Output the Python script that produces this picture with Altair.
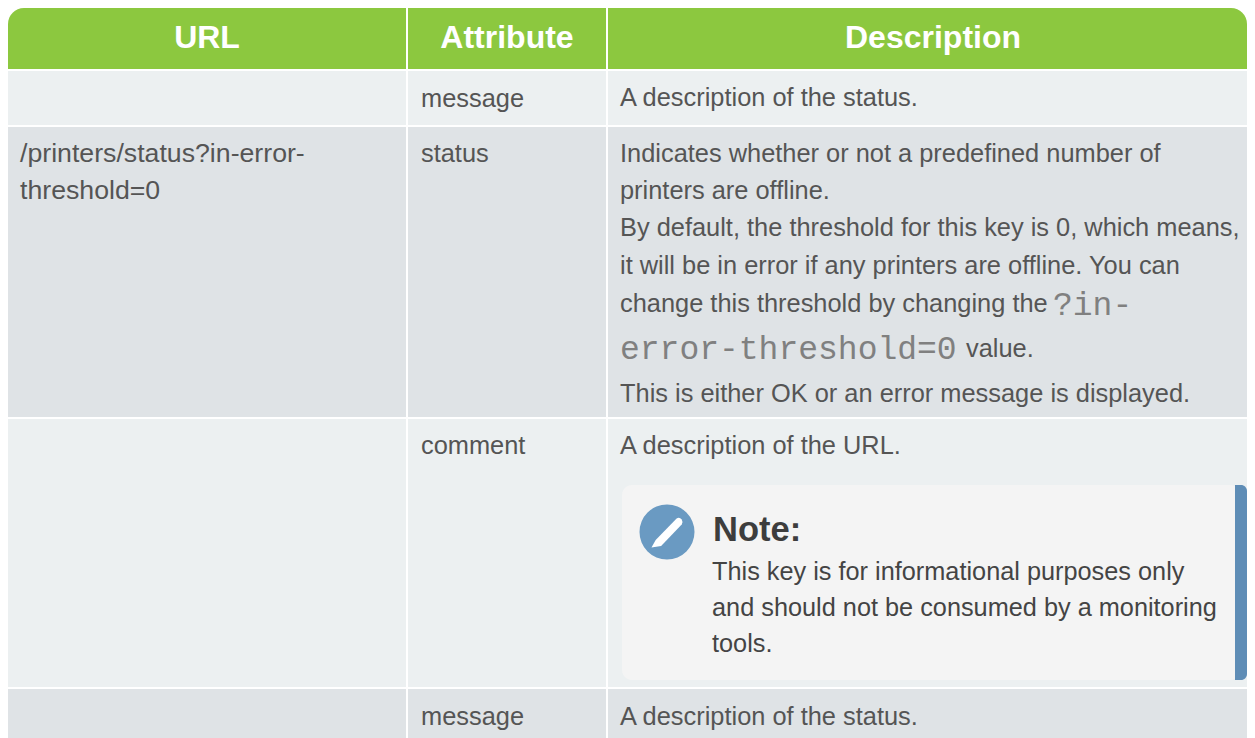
import altair as alt
import pandas as pd

# Table structure
col_edges = [(8, 406), (408, 606), (608, 1247)]
row_edges = [(8, 69), (71, 125), (127, 417), (419, 687), (689, 738)]
row_colors = ["#8cc83f", "#ecf0f1", "#dfe3e6", "#ecf0f1", "#dfe3e6"]

header_labels = ["URL", "Attribute", "Description"]
header_x = [207, 507, 933]
header_y = [38, 38, 38]

url_text = ["/printers/status?in-error-", "threshold=0"]
url_x = [20, 20]
url_y = [154, 191]

body_text = [
    "message", "A description of the status.",
    "status",
    "Indicates whether or not a predefined number of",
    "printers are offline.",
    "By default, the threshold for this key is 0, which means,",
    "it will be in error if any printers are offline. You can",
    "change this threshold by changing the",
    "value.",
    "This is either OK or an error message is displayed.",
    "comment", "A description of the URL.",
    "message", "A description of the status.",
]
body_x = [421, 620, 421, 620, 620, 620, 620, 620, 966, 620, 421, 620, 421, 620]
body_y = [99, 98, 154, 154, 191, 228, 266, 304, 349, 394, 446, 446, 717, 717]

mono_text = ["?in-", "error-threshold=0"]
mono_x = [1053, 620]
mono_y = [305, 349]

note_title = ["Note:"]
note_lines = ["This key is for informational purposes only",
              "and should not be consumed by a monitoring",
              "tools."]
note_line_x = [712, 712, 712]
note_line_y = [572, 608, 644]

X = alt.Scale(domain=[8, 1247], nice=False, zero=False)
Y = alt.Scale(domain=[738, 8], nice=False, zero=False)

def xq(f="x"): return alt.X(f"{f}:Q", scale=X, axis=None)
def yq(f="y"): return alt.Y(f"{f}:Q", scale=Y, axis=None)

cells = pd.DataFrame([
    {"x": c[0], "x2": c[1], "y": r[0], "y2": r[1], "fill": col, "row": i, "col": j}
    for i, (r, col) in enumerate(zip(row_edges, row_colors))
    for j, c in enumerate(col_edges)
])

def rects(df, **mk):
    return alt.Chart(df).mark_rect(**mk).encode(
        x=xq("x"), x2="x2:Q", y=yq("y"), y2="y2:Q",
        color=alt.Color("fill:N", scale=None),
    )

plain = rects(cells[~((cells.row == 0) & (cells.col != 1))])
head_l = rects(cells[(cells.row == 0) & (cells.col == 0)], cornerRadiusTopLeft=16)
head_r = rects(cells[(cells.row == 0) & (cells.col == 2)], cornerRadiusTopRight=16)

note_bg = rects(pd.DataFrame([{"x": 622, "x2": 1240, "y": 485, "y2": 680, "fill": "#f4f4f4"}]), cornerRadius=10)
note_bar = rects(pd.DataFrame([{"x": 1235, "x2": 1247, "y": 485, "y2": 680, "fill": "#5f8db6"}]),
                 cornerRadiusTopRight=11, cornerRadiusBottomRight=11)

def texts(labels, xs, ys, **mk):
    df = pd.DataFrame({"t": labels, "x": xs, "y": ys})
    return alt.Chart(df).mark_text(baseline="middle", **mk).encode(x=xq(), y=yq(), text="t:N")

header = texts(header_labels, header_x, header_y, align="center", font="Liberation Sans",
               fontWeight="bold", fontSize=32, color="#ffffff")
url = texts(url_text, url_x, url_y, align="left", font="Liberation Sans", fontSize=26.7, color="#555555")
body = texts(body_text, body_x, body_y, align="left", font="Liberation Sans", fontSize=25.4, color="#555555")
mono = texts(mono_text, mono_x, mono_y, align="left", font="Liberation Mono", fontSize=33, color="#808080")
title = texts(note_title, [713], [531], align="left", font="Liberation Sans", fontWeight="bold",
              fontSize=34.5, color="#3d3d3d")
note = texts(note_lines, note_line_x, note_line_y, align="left", font="Liberation Sans", fontSize=25.3, color="#444444")

icon_df = pd.DataFrame({"x": [667], "y": [532]})
circle = alt.Chart(icon_df).mark_point(shape="circle", filled=True, opacity=1, color="#6a9ac2", size=3025).encode(x=xq(), y=yq())
PENCIL = "M-1,1 L-.73,.51 L.62,-.87 Q.8,-1 .95,-.8 Q1.05,-.65 .95,-.49 L-.38,.91 Z"
pencil = alt.Chart(icon_df).mark_point(shape=PENCIL, filled=True, opacity=1, color="#ffffff", size=960, strokeWidth=0).encode(x=xq(), y=yq())

chart = alt.layer(plain, head_l, head_r, note_bg, note_bar, circle, pencil, header, url, body, mono, title, note).properties(
    width=1239, height=730, padding=0, autosize=alt.AutoSizeParams(type="none"),
).configure_view(stroke=None)

chart.save("out.html", embed_options={"renderer": "svg", "actions": False})
